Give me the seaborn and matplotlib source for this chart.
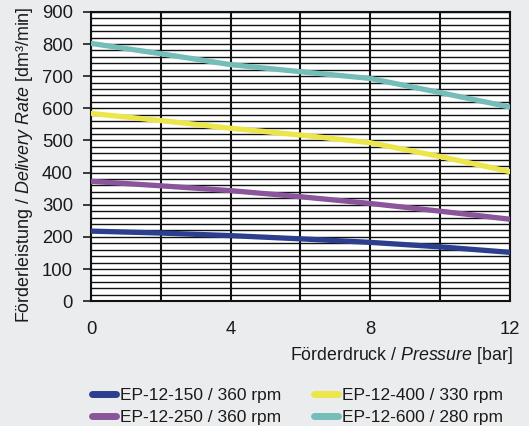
import matplotlib
matplotlib.use("Agg")
import matplotlib.pyplot as plt
import seaborn as sns
import pandas as pd
import numpy as np
from matplotlib.lines import Line2D

pressure = [0, 2, 4, 6, 8, 10, 12]
ep150 = [218, 212, 204, 194, 183, 169, 152]
ep250 = [373, 359, 344, 325, 304, 280, 255]
ep400 = [584, 562, 538, 517, 493, 450, 403]
ep600 = [802, 770, 736, 714, 693, 649, 604]
series_names = ["EP-12-150 / 360 rpm", "EP-12-250 / 360 rpm",
                "EP-12-400 / 330 rpm", "EP-12-600 / 280 rpm"]
colors = ["#2c3e8e", "#8a559b", "#ece64a", "#74bdb8"]
x_ticks = [0, 4, 8, 12]
y_ticks = [0, 100, 200, 300, 400, 500, 600, 700, 800, 900]

rows = []
for name, vals in zip(series_names, [ep150, ep250, ep400, ep600]):
    for p, v in zip(pressure, vals):
        rows.append({"Pressure": p, "Rate": v, "Series": name})
df = pd.DataFrame(rows)

sns.set_theme(style="white")
plt.rcParams["font.family"] = ["Liberation Sans", "DejaVu Sans"]
plt.rcParams["mathtext.fontset"] = "custom"
plt.rcParams["mathtext.rm"] = "Liberation Sans"
plt.rcParams["mathtext.it"] = "Liberation Sans:italic"
plt.rcParams["mathtext.bf"] = "Liberation Sans:bold"

bg = "#ebecee"
fig = plt.figure(figsize=(5.29, 4.26), dpi=100, facecolor=bg)
ax = fig.add_axes([0.172, 0.293, 0.792, 0.679])
ax.set_facecolor("white")

# grid
for yv in np.arange(0, 901, 20):
    ax.axhline(yv, color="#111111", lw=1.0, zorder=1)
for xv in np.arange(0, 13, 2):
    ax.axvline(xv, color="#111111", lw=1.5, zorder=1)

sns.lineplot(data=df, x="Pressure", y="Rate", hue="Series",
             palette=dict(zip(series_names, colors)), lw=3.8,
             ax=ax, zorder=3, legend=False)

ax.set_xlim(0, 12)
ax.set_ylim(0, 900)
ax.set_xticks(x_ticks)
ax.set_yticks(y_ticks)
ax.tick_params(axis="x", length=0, pad=14, labelsize=13.3, colors="#1a1a1a")
ax.tick_params(axis="y", length=6, width=1.2, pad=7, labelsize=13.3,
               left=True, color="#1a1a1a", colors="#1a1a1a", direction="out")
for s in ax.spines.values():
    s.set_color("#111111")
    s.set_linewidth(1.5)

ax.set_xlabel("Förderdruck / $\\it{Pressure}$ [bar]", fontsize=12.8, color="#1a1a1a")
ax.set_ylabel("Förderleistung / $\\it{Delivery\\ Rate}$ [dm³/min]", fontsize=12.9, color="#1a1a1a")
ax.xaxis.set_label_coords(1.007, -0.15)
ax.xaxis.label.set_horizontalalignment("right")
ax.yaxis.set_label_coords(-0.134, 0.472)

handles = [Line2D([0], [0], color=c, lw=5) for c in colors]
fig.legend(handles, series_names, loc="lower left", bbox_to_anchor=(0.145, -0.035),
           ncol=2, frameon=False, fontsize=12.5, handlelength=1.35,
           handletextpad=0.25, columnspacing=1.9, labelspacing=0.42,
           labelcolor="#1a1a1a")

fig.savefig("out.png", dpi=100, facecolor=bg)
